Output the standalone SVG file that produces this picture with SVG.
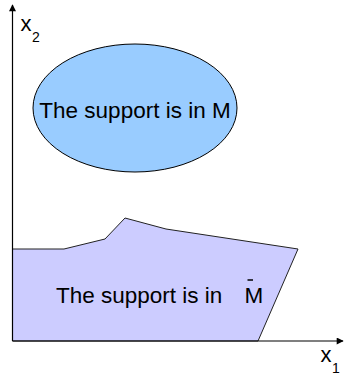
<svg xmlns="http://www.w3.org/2000/svg" width="345" height="376" viewBox="0 0 345 376">
<style>
.lbl{font-family:"Liberation Sans",Arial,sans-serif;fill:#000}
.big{font-size:22.5px}
.ax{stroke:#000;stroke-width:1.2;fill:none}
</style>
<defs>
<marker id="arr" viewBox="0 0 10 10" refX="9" refY="5" markerWidth="10" markerHeight="7" markerUnits="userSpaceOnUse" orient="auto">
<path d="M0,0 L10,5 L0,10 z" fill="#000"/>
</marker>
</defs>
<rect width="345" height="376" fill="#fff"/>
<g id="region-mbar">
<polygon points="12.5,249 64,249 105,239 125,218 166,229 298,249 258,341 12.5,341" fill="#ccccff" stroke="#222" stroke-width="1"/>
<text class="lbl big" x="56" y="303">The support is in</text>
<text class="lbl big" x="244.5" y="303">M</text>
<line x1="247.5" y1="280" x2="253" y2="280" stroke="#000" stroke-width="1.5"/>
</g>
<g id="region-m">
<ellipse cx="135" cy="108" rx="102" ry="64" fill="#99ccff" stroke="#000" stroke-width="1"/>
<text class="lbl big" x="135" y="118" text-anchor="middle">The support is in M</text>
</g>
<g id="axes">
<line class="ax" x1="12.5" y1="341" x2="12.5" y2="5" marker-end="url(#arr)"/>
<line class="ax" x1="12.5" y1="341" x2="343" y2="341" marker-end="url(#arr)"/>
</g>
<g id="label-x2">
<text class="lbl" x="20.5" y="31" font-size="22">x</text>
<text class="lbl" x="32" y="42" font-size="14">2</text>
</g>
<g id="label-x1">
<text class="lbl" x="320.5" y="362" font-size="22">x</text>
<text class="lbl" x="332" y="373" font-size="14">1</text>
</g>
</svg>
